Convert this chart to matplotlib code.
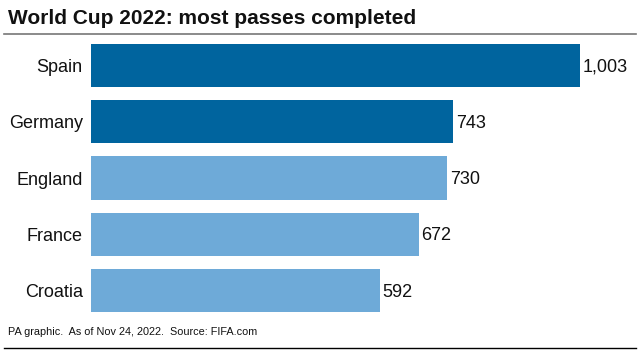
import matplotlib
matplotlib.use("Agg")
from matplotlib import pyplot as plt

teams = ["Spain", "Germany", "England", "France", "Croatia"]
passes = [1003, 743, 730, 672, 592]
highlight = [True, True, False, False, False]

DARK = "#00649e"
LIGHT = "#6eaad8"

plt.rcParams["font.family"] = ["Liberation Sans", "DejaVu Sans"]

fig = plt.figure(figsize=(6.4, 3.6), dpi=100)
ax = fig.add_axes([91 / 640, 1 - 318.6 / 360, 545 / 640, 281.2 / 360])

colors = [DARK if h else LIGHT for h in highlight]
ypos = list(range(len(teams)))
ax.barh(ypos, passes, height=0.77, color=colors)

for y, v in zip(ypos, passes):
    ax.text(v + 6, y + 0.03, f"{v:,}", va="center", ha="left", fontsize=13, color="#111111")

ax.set_xlim(0, 1003 * 545 / 489)
ax.set_ylim(len(teams) - 0.5, -0.5)
ax.set_yticks(ypos)
ax.set_yticklabels(teams, fontsize=13, color="#111111")
ax.tick_params(axis="y", length=0, pad=6)
ax.set_xticks([])
for s in ax.spines.values():
    s.set_visible(False)

fig.text(8 / 640, 1 - 18 / 360, "World Cup 2022: most passes completed",
         fontsize=15, fontweight="bold", va="center", ha="left", color="#111111")
fig.add_artist(plt.Line2D([4 / 640, 636 / 640], [1 - 34 / 360] * 2, color="#777777", lw=1.2))

fig.text(8 / 640, 1 - 332 / 360, "PA graphic.  As of Nov 24, 2022.  Source: FIFA.com",
         fontsize=7.8, va="center", ha="left", color="#111111")
fig.add_artist(plt.Line2D([4 / 640, 636 / 640], [1 - 348 / 360] * 2, color="black", lw=1.0))

fig.savefig("out.png", dpi=100)
